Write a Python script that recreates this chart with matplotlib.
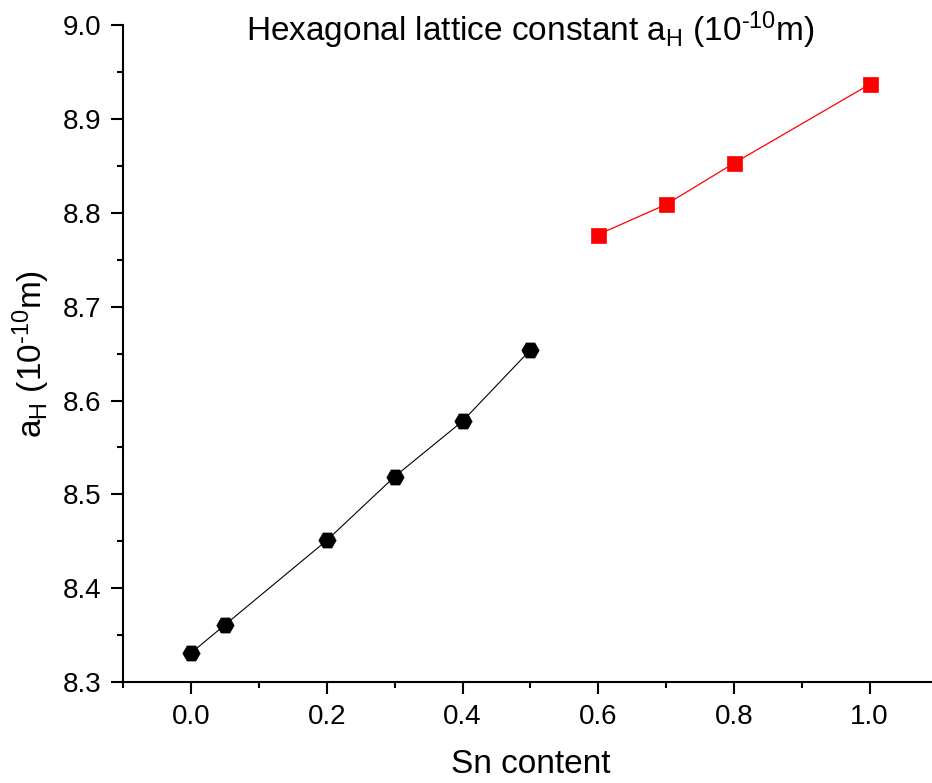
import matplotlib
matplotlib.use("Agg")
import matplotlib.pyplot as plt

plt.rcParams['font.family'] = ['Liberation Sans', 'DejaVu Sans']
plt.rcParams['mathtext.fontset'] = 'custom'
plt.rcParams['mathtext.rm'] = 'Liberation Sans'
plt.rcParams['mathtext.it'] = 'Liberation Sans'
plt.rcParams['mathtext.bf'] = 'Liberation Sans:bold'
plt.rcParams['mathtext.default'] = 'regular'

# Data
sn_black = [0.0, 0.05, 0.2, 0.3, 0.4, 0.5]
a_black = [8.331, 8.361, 8.451, 8.519, 8.578, 8.654]
sn_red = [0.6, 0.7, 0.8, 1.0]
a_red = [8.777, 8.809, 8.853, 8.937]

xticks = [0.0, 0.2, 0.4, 0.6, 0.8, 1.0]
yticks = [8.3, 8.4, 8.5, 8.6, 8.7, 8.8, 8.9, 9.0]

title = r'Hexagonal lattice constant a$_{H}$ (10$^{\text{-10}}$m)'
xlabel = 'Sn content'
ylabel = r'a$_{H}$ (10$^{\text{-10}}$m)'

W, H = 932, 783
fig = plt.figure(figsize=(W / 100, H / 100), dpi=100)
ax = fig.add_axes([123.3 / W, (H - 682) / H, (937.5 - 123.3) / W, (682 - 25.3) / H])

ax.plot(sn_black, a_black, color='black', lw=0.8, marker='H', ms=12.5,
        mfc='black', mec='black', mew=0.5, zorder=3)
ax.plot(sn_red, a_red, color='#ff0000', lw=0.9, marker='s', ms=10.8,
        mfc='#ff0000', mec='#ff0000', mew=0.5, zorder=3)

ax.set_xlim(-0.1, 1.1)
ax.set_ylim(8.3, 9.0)
ax.set_xticks(xticks)
ax.set_xticklabels([f'{t:.1f}' for t in xticks])
ax.set_yticks(yticks)
ax.set_yticklabels([f'{t:.1f}' for t in yticks])
ax.set_xticks([-0.1, 0.1, 0.3, 0.5, 0.7, 0.9], minor=True)
ax.set_yticks([8.35, 8.45, 8.55, 8.65, 8.75, 8.85, 8.95], minor=True)

for s in ['top', 'right']:
    ax.spines[s].set_visible(False)
for s in ['left', 'bottom']:
    ax.spines[s].set_linewidth(1.5)

ax.tick_params(which='major', direction='out', length=8.8, width=1.5,
               labelsize=20, pad=7)
ax.tick_params(which='minor', direction='out', length=4.4, width=1.5)

ax.set_xlabel(xlabel, fontsize=24, labelpad=14)
ax.set_ylabel(ylabel, fontsize=24, labelpad=8)

ax.text(0.5, (682 - 41) / (682 - 25.3), title, transform=ax.transAxes,
        ha='center', va='baseline', fontsize=24)

fig.savefig('out.png', dpi=100)
